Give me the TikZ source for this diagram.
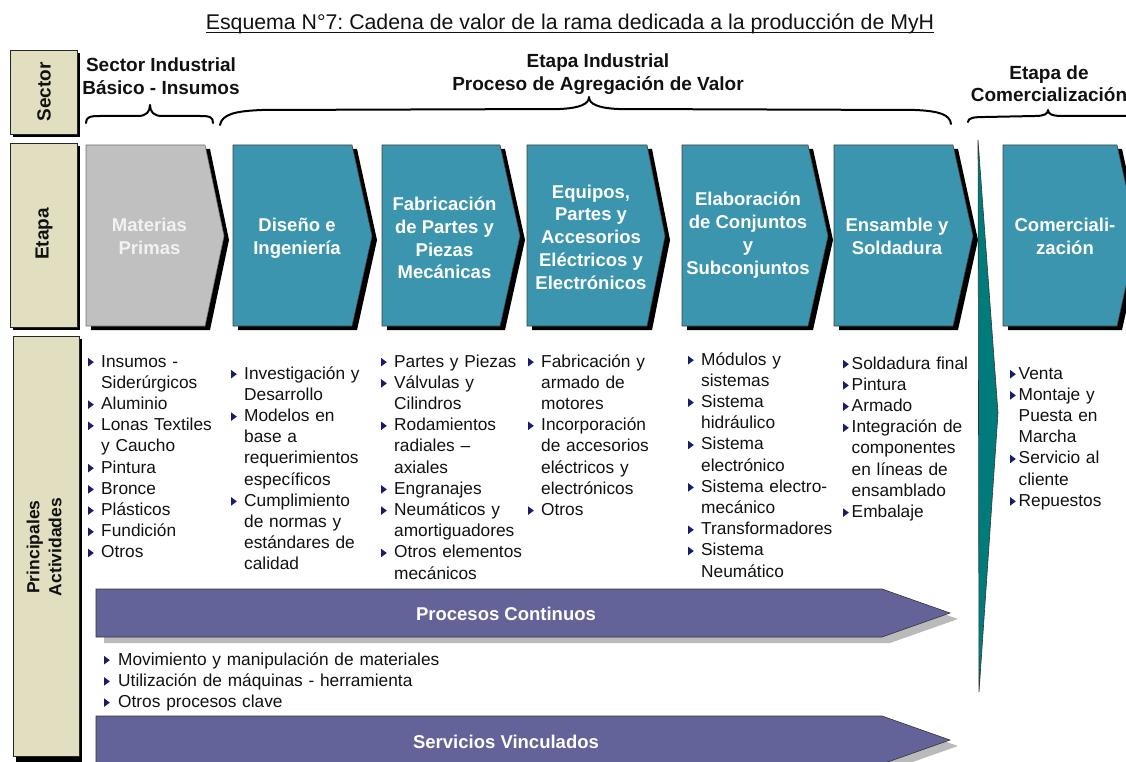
\documentclass[tikz,border=0pt]{standalone}
\usepackage{fontspec}
\setmainfont{Liberation Sans}
\usetikzlibrary{calc}
\frenchspacing

\definecolor{beige}{HTML}{E1DFC0}
\definecolor{tealbox}{HTML}{3C95AE}
\definecolor{greybox}{HTML}{C0C0C0}
\definecolor{purplebar}{HTML}{636399}
\definecolor{greenwedge}{HTML}{007B7B}
\definecolor{bulc}{HTML}{1B1B6B}
\definecolor{txt}{HTML}{111111}

% bullet mark and bullet items with hanging indent
\newcommand\bulmark{\tikz[baseline=0pt]{\fill[bulc] (0pt,0.6pt) -- (0pt,9pt) -- (5.6pt,4.8pt) -- cycle;}}
\def\bw{13pt}
% first item of a list (no paragraph break before it)
\newcommand\blf{\hangindent=\bw\hangafter=1\noindent\makebox[\bw][l]{\bulmark}}
% following items
\newcommand\bl{\par\blf}
\let\lnbr\newline

% value-chain chevron: left x, corner x, tip x, fill, outline
\newcommand\chevron[5]{%
  \fill[black,shift={(5,4)}] (#1,145) -- (#2,145) -- (#3,236) -- (#2,326) -- (#1,326) -- cycle;
  \filldraw[fill=#4,draw=#5,line width=0.6pt] (#1,145) -- (#2,145) -- (#3,236) -- (#2,326) -- (#1,326) -- cycle;}

\begin{document}
\begin{tikzpicture}[x=1pt,y=-1pt,
  rowlabel/.style={fill=beige,draw=black!85,line width=0.8pt},
  rowtext/.style={rotate=90,font=\bfseries\fontsize{19}{22}\selectfont,align=center,inner sep=0,text=txt},
  head/.style={font=\bfseries\fontsize{19}{22.5}\selectfont,align=center,inner sep=0,text=txt},
  chevtext/.style={font=\bfseries\fontsize{18.5}{22.8}\selectfont,align=center,inner sep=0,text=white},
  bartext/.style={font=\bfseries\fontsize{18.5}{22}\selectfont,inner sep=0,text=white},
  items/.style={anchor=base west,inner sep=0,text width=220pt,font=\fontsize{17.3}{21.2}\selectfont,text=txt},
  brace/.style={line width=2pt,line cap=round,line join=round},
  bar/.style={fill=purplebar,draw=black!80,line width=0.6pt},
  barshadow/.style={fill=black!27}]

\useasboundingbox (0,0) rectangle (1126,762);
\clip (0,0) rectangle (1126,762);

% title
\node[anchor=base,inner sep=0,font=\fontsize{21.3}{24}\selectfont,text=txt] (title) at (570,29.5)
  {Esquema N°7: Cadena de valor de la rama dedicada a la producción de MyH};
\draw[line width=1pt,txt] ($(title.base west)+(0,2.8)$) -- ($(title.base east)+(0,2.8)$);

% row labels
\fill[black] (13,53) rectangle (80,137);
\filldraw[rowlabel] (10,50) rectangle (77,134);
\node[rowtext] (lsector) at (44,92) {Sector};
\fill[black] (13,146) rectangle (80,330);
\filldraw[rowlabel] (10,143) rectangle (77,327);
\node[rowtext] (letapa) at (44,234) {Etapa};
\fill[black] (16,339) rectangle (82,762);
\filldraw[rowlabel] (13,336) rectangle (79,756);
\node[rowtext,font=\bfseries\fontsize{17.5}{22}\selectfont] (lact) at (44,547) {Principales\\Actividades};

% sector headers and braces
\node[head] (hbasico) at (161,76) {Sector Industrial\\Básico - Insumos};
\node[head] (hind) at (598,74) {Etapa Industrial\\Proceso de Agregación de Valor};
\node[head] (hcom) at (1049,83.5) {Etapa de\\Comercialización};

\draw[brace] (86,123) .. controls (86,117) and (90,116) .. (100,116) -- (138,116)
  .. controls (146,116) and (150,112) .. (150,105)
  .. controls (150,112) and (154,116) .. (162,116) -- (200,116)
  .. controls (210,116) and (213,117) .. (213,123);
\draw[brace] (220,125) .. controls (222,114) and (236,111) .. (262,110) -- (560,109)
  .. controls (580,108) and (589,104) .. (589,97)
  .. controls (589,104) and (598,108) .. (618,109) -- (915,110)
  .. controls (940,111) and (950,115) .. (951,124);
\draw[brace] (968,122) .. controls (968,118) and (973,117) .. (985,117) -- (1035,116)
  .. controls (1044,116) and (1048,114) .. (1048,110)
  .. controls (1048,114) and (1052,116) .. (1062,116) -- (1130,116);

% stage chevrons
\chevron{86}{205}{224}{greybox}{black!55}
\chevron{233}{352}{372}{tealbox}{black!75}
\chevron{382}{500}{520}{tealbox}{black!75}
\chevron{527}{647}{665}{tealbox}{black!75}
\chevron{682}{808}{828}{tealbox}{black!75}
\chevron{834}{953}{973}{tealbox}{black!75}
\chevron{1003}{1117}{1137}{tealbox}{black!75}

\node[chevtext,text=white!95!black] (cmat) at (149.5,236) {Materias\\Primas};
\node[chevtext] (cdis) at (297,238) {Diseño e\\Ingeniería};
\node[chevtext] (cfab) at (444.5,238) {Fabricación\\de Partes y\\Piezas\\Mecánicas};
\node[chevtext] (cequ) at (591,237) {Equipos,\\Partes y\\Accesorios\\Eléctricos y\\Electrónicos};
\node[chevtext] (cela) at (748,235) {Elaboración\\de Conjuntos\\y\\Subconjuntos};
\node[chevtext] (cens) at (897,236) {Ensamble y\\Soldadura};
\node[chevtext] (ccom) at (1065,236) {Comerciali-\\zación};

% wedge separating the commercial stage
\filldraw[fill=greenwedge,draw=black!80,line width=0.6pt] (978,140) -- (998,413) -- (979,692) -- cycle;

% activity lists
\node[items] (a1) at (88,367) {\blf Insumos -\lnbr Siderúrgicos
  \bl Aluminio
  \bl Lonas Textiles\lnbr y Caucho
  \bl Pintura
  \bl Bronce
  \bl Plásticos
  \bl Fundición
  \bl Otros\par};
\node[items] (a2) at (231,379) {\blf Investigación y\lnbr Desarrollo
  \bl Modelos en\lnbr base a\lnbr requerimientos\lnbr específicos
  \bl Cumplimiento\lnbr de normas y\lnbr estándares de\lnbr calidad\par};
\node[items] (a3) at (381,367) {\blf Partes y Piezas
  \bl Válvulas y\lnbr Cilindros
  \bl Rodamientos\lnbr radiales –\lnbr axiales
  \bl Engranajes
  \bl Neumáticos y\lnbr amortiguadores
  \bl Otros elementos\lnbr mecánicos\par};
\node[items] (a4) at (528,367) {\blf Fabricación y\lnbr armado de\lnbr motores
  \bl Incorporación\lnbr de accesorios\lnbr eléctricos y\lnbr electrónicos
  \bl Otros\par};
\node[items] (a5) at (688,365) {\blf Módulos y\lnbr sistemas
  \bl Sistema\lnbr hidráulico
  \bl Sistema\lnbr electrónico
  \bl Sistema electro-\lnbr mecánico
  \bl Transformadores
  \bl Sistema\lnbr Neumático\par};
\node[items] (a6) at (843,369) {\def\bw{8.5pt}\blf Soldadura final
  \bl Pintura
  \bl Armado
  \bl Integración de\lnbr componentes\lnbr en líneas de\lnbr ensamblado
  \bl Embalaje\par};
\node[items] (a7) at (1010,379) {\def\bw{8.5pt}\blf Venta
  \bl Montaje y\lnbr Puesta en\lnbr Marcha
  \bl Servicio al\lnbr cliente
  \bl Repuestos\par};

% continuous processes and linked services
\fill[barshadow,shift={(8,6)}] (96,589) -- (882,589) -- (950,613) -- (882,637) -- (96,637) -- cycle;
\filldraw[bar] (96,589) -- (882,589) -- (950,613) -- (882,637) -- (96,637) -- cycle;
\node[bartext] (bproc) at (506,614) {Procesos Continuos};

\node[items,text width=420pt] (a8) at (104,665) {\def\bw{14pt}\blf Movimiento y manipulación de materiales
  \bl Utilización de máquinas - herramienta
  \bl Otros procesos clave\par};

\fill[barshadow,shift={(8,6)}] (96,716) -- (882,716) -- (950,740) -- (882,764) -- (96,764) -- cycle;
\filldraw[bar] (96,716) -- (882,716) -- (950,740) -- (882,764) -- (96,764) -- cycle;
\node[bartext] (bserv) at (506,742) {Servicios Vinculados};

\end{tikzpicture}
\end{document}
